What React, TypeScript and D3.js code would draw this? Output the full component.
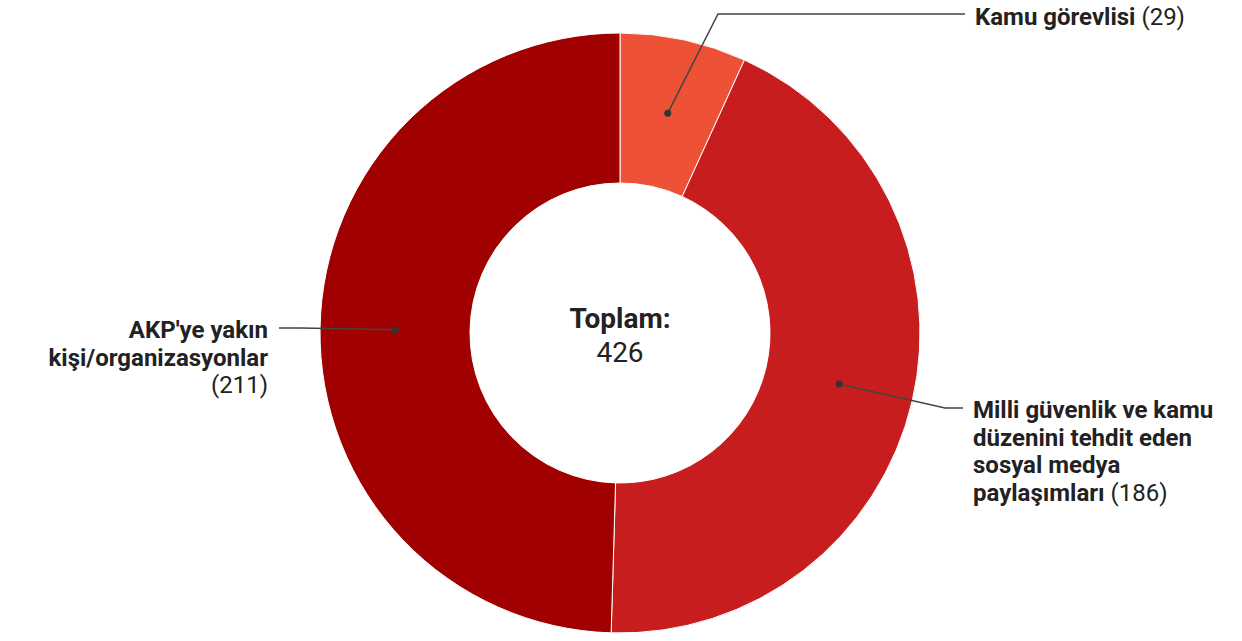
import React from "react";
import * as d3 from "d3";

const categories = ["Kamu görevlisi", "Milli güvenlik ve kamu düzenini tehdit eden sosyal medya paylaşımları", "AKP'ye yakın kişi/organizasyonlar"];
const values = [29, 186, 211];
const colors = ["#ED5236", "#C81D1E", "#A00000"];
const totalLabel = "Toplam:";

// label text lines (bold parts; the count is appended in regular weight on the last line)
const labelLines = [
  ["Kamu görevlisi"],
  ["Milli güvenlik ve kamu", "düzenini tehdit eden", "sosyal medya", "paylaşımları"],
  ["AKP'ye yakın", "kişi/organizasyonlar", ""],
];

const W = 1242;
const H = 641;
const cx = 620;
const cy = 333;
const outerR = 300;
const innerR = 150;

export default function App() {
  const total = d3.sum(values);
  const pie = d3.pie<number>().sort(null).value((d) => d);
  const arcs = pie(values);
  const arc = d3.arc<d3.PieArcDatum<number>>().innerRadius(innerR).outerRadius(outerR);

  const layout = [
    { elbow: [718, 14], end: [965, 14], tx: 975, ty: 25, anchor: "start" },
    { elbow: [945, 408], end: [963, 408], tx: 973, ty: 418, anchor: "start" },
    { elbow: [300, 328], end: [279, 328], tx: 268, ty: 338, anchor: "end" },
  ];
  const lh = 27.6;
  const font = "Roboto, 'Noto Sans', sans-serif";

  return (
    <svg width={W} height={H} style={{ display: "block", position: "absolute", left: 0, top: 0 }} fontFamily={font}>
      <rect width={W} height={H} fill="#fff" />
      <g transform={`translate(${cx},${cy})`}>
        {arcs.map((a, i) => (
          <path key={i} d={arc(a) || ""} fill={colors[i]} stroke="#fff" strokeWidth={1} />
        ))}
      </g>
      {arcs.map((a, i) => {
        const [dx, dy] = arc.centroid(a);
        const p = [cx + dx, cy + dy];
        const L = layout[i];
        const lines = labelLines[i];
        return (
          <g key={i}>
            <polyline
              points={`${p[0]},${p[1]} ${L.elbow[0]},${L.elbow[1]} ${L.end[0]},${L.end[1]}`}
              fill="none"
              stroke="#444"
              strokeWidth={1.5}
            />
            <circle cx={p[0]} cy={p[1]} r={3.5} fill="#333" />
            <text x={L.tx} y={L.ty} fontSize={24} fill="#222" textAnchor={L.anchor as any}>
              {lines.map((ln, j) => (
                <tspan key={j} x={L.tx} dy={j === 0 ? 0 : lh}>
                  {ln && <tspan fontWeight="bold">{ln}</tspan>}
                  {j === lines.length - 1 && (
                    <tspan fontWeight="normal">{(ln ? " " : "") + "(" + values[i] + ")"}</tspan>
                  )}
                </tspan>
              ))}
            </text>
          </g>
        );
      })}
      <text x={cx} y={328} textAnchor="middle" fontSize={28} fontWeight="bold" fill="#222">
        {totalLabel}
      </text>
      <text x={cx} y={362} textAnchor="middle" fontSize={28} fill="#222">
        {total}
      </text>
    </svg>
  );
}
